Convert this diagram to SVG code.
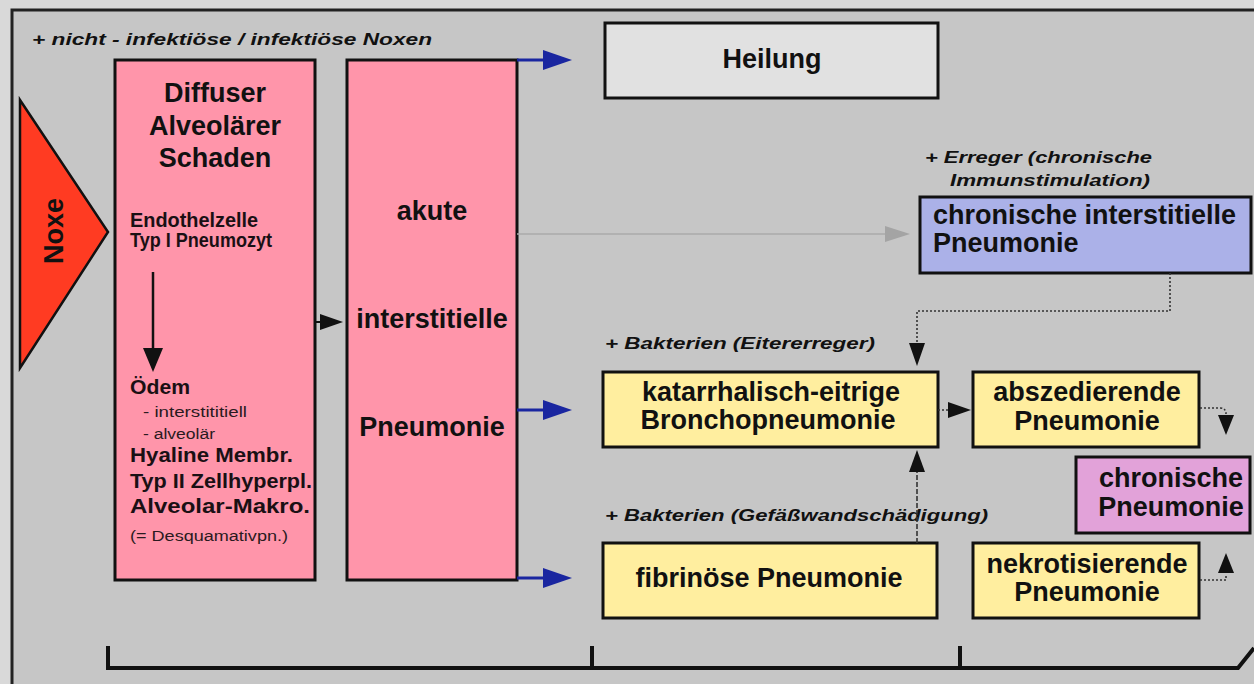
<svg xmlns="http://www.w3.org/2000/svg" width="1254" height="684" viewBox="0 0 1254 684">
<defs>
<style>
.box{stroke:#111;stroke-width:3}
.big{font-family:"Liberation Sans",Arial,sans-serif;font-weight:bold;font-size:27px;fill:#111}
.mid{font-family:"Liberation Sans",Arial,sans-serif;font-weight:bold;font-size:20px;fill:#1a1014}
.sm{font-family:"Liberation Sans",Arial,sans-serif;font-size:14px;fill:#2a1a20}
.lab{font-family:"Liberation Sans",Arial,sans-serif;font-weight:bold;font-style:italic;font-size:17px;fill:#111}
.dot{fill:none;stroke:#333;stroke-width:1.6;stroke-dasharray:2,2}
</style>
</defs>
<rect x="0" y="0" width="1254" height="684" fill="#d9d9d9"/>
<rect x="12" y="10" width="1250" height="680" fill="#c6c6c6" stroke="#222" stroke-width="3"/>

<g id="label-noxen"><text class="lab" x="32" y="45" textLength="400" lengthAdjust="spacingAndGlyphs">+ nicht - infektiöse  /  infektiöse Noxen</text></g>

<g id="noxe">
<polygon points="20,100 108,232 20,368" fill="#ff3b22" stroke="#111" stroke-width="2.5"/>
<text class="big" font-size="24" text-anchor="middle" transform="translate(63,231) rotate(-90)">Noxe</text>
</g>

<g id="dad">
<rect class="box" x="115" y="60" width="200" height="520" fill="#ff95aa"/>
<text class="big" x="215" y="102" text-anchor="middle">Diffuser</text>
<text class="big" x="215" y="135" text-anchor="middle">Alveolärer</text>
<text class="big" x="215" y="167" text-anchor="middle">Schaden</text>
<text class="mid" x="130" y="227" textLength="128" lengthAdjust="spacingAndGlyphs">Endothelzelle</text>
<text class="mid" x="130" y="247" textLength="142" lengthAdjust="spacingAndGlyphs">Typ I Pneumozyt</text>
<text class="mid" x="130" y="394" textLength="60" lengthAdjust="spacingAndGlyphs">Ödem</text>
<text class="sm" x="143" y="417" textLength="104" lengthAdjust="spacingAndGlyphs">- interstititiell</text>
<text class="sm" x="143" y="439" textLength="72" lengthAdjust="spacingAndGlyphs">- alveolär</text>
<text class="mid" x="130" y="462" textLength="163" lengthAdjust="spacingAndGlyphs">Hyaline Membr.</text>
<text class="mid" x="130" y="488" textLength="182" lengthAdjust="spacingAndGlyphs">Typ II Zellhyperpl.</text>
<text class="mid" x="130" y="513" textLength="180" lengthAdjust="spacingAndGlyphs">Alveolar-Makro.</text>
<text class="sm" x="130" y="541" textLength="158" lengthAdjust="spacingAndGlyphs">(= Desquamativpn.)</text>
</g>

<g id="aip">
<rect class="box" x="347" y="60" width="170" height="520" fill="#ff95aa"/>
<text class="big" x="432" y="220" text-anchor="middle">akute</text>
<text class="big" x="432" y="328" text-anchor="middle">interstitielle</text>
<text class="big" x="432" y="436" text-anchor="middle">Pneumonie</text>
</g>

<g id="heilung">
<rect class="box" x="605" y="23" width="333" height="75" fill="#e1e1e1"/>
<text class="big" x="772" y="68" text-anchor="middle">Heilung</text>
</g>

<g id="label-erreger">
<text class="lab" x="925" y="163" textLength="227" lengthAdjust="spacingAndGlyphs">+ Erreger (chronische</text>
<text class="lab" x="950" y="186" textLength="200" lengthAdjust="spacingAndGlyphs">Immunstimulation)</text>
</g>

<g id="cip">
<rect class="box" x="920" y="197" width="331" height="76" fill="#abb1e8"/>
<text class="big" x="933" y="224">chronische interstitielle</text>
<text class="big" x="933" y="252">Pneumonie</text>
</g>

<g id="label-eiter"><text class="lab" x="605" y="349" textLength="270" lengthAdjust="spacingAndGlyphs">+ Bakterien  (Eitererreger)</text></g>

<g id="bronchopn">
<rect class="box" x="603" y="372" width="335" height="75" fill="#ffee9f"/>
<text class="big" x="771" y="401" text-anchor="middle">katarrhalisch-eitrige</text>
<text class="big" x="768" y="429" text-anchor="middle">Bronchopneumonie</text>
</g>

<g id="abszed">
<rect class="box" x="973" y="372" width="226" height="75" fill="#ffee9f"/>
<text class="big" x="1087" y="401" text-anchor="middle">abszedierende</text>
<text class="big" x="1087" y="430" text-anchor="middle">Pneumonie</text>
</g>

<g id="chronpn">
<rect class="box" x="1076" y="457" width="174" height="76" fill="#e2a2d9"/>
<text class="big" font-size="26" x="1171" y="487" text-anchor="middle">chronische</text>
<text class="big" font-size="26" x="1171" y="516" text-anchor="middle">Pneumonie</text>
</g>

<g id="label-gefaess"><text class="lab" x="605" y="521" textLength="383" lengthAdjust="spacingAndGlyphs">+ Bakterien  (Gefäßwandschädigung)</text></g>

<g id="fibrin">
<rect class="box" x="603" y="543" width="334" height="75" fill="#ffee9f"/>
<text class="big" x="769" y="587" text-anchor="middle">fibrinöse Pneumonie</text>
</g>

<g id="nekrot">
<rect class="box" x="973" y="543" width="226" height="75" fill="#ffee9f"/>
<text class="big" x="1087" y="573" text-anchor="middle">nekrotisierende</text>
<text class="big" x="1087" y="601" text-anchor="middle">Pneumonie</text>
</g>

<g id="connectors">
<line x1="153" y1="272" x2="153" y2="350" stroke="#111" stroke-width="2.5"/>
<polygon points="143,348 163,348 153,372" fill="#111"/>
<line x1="316" y1="322" x2="324" y2="322" stroke="#111" stroke-width="2"/>
<polygon points="320,314 343,322 320,330" fill="#111"/>
<line x1="517" y1="60" x2="546" y2="60" stroke="#1a26a0" stroke-width="3"/>
<polygon points="543,50 572,60 543,70" fill="#1a26a0"/>
<line x1="517" y1="410" x2="546" y2="410" stroke="#1a26a0" stroke-width="3"/>
<polygon points="543,400 572,410 543,420" fill="#1a26a0"/>
<line x1="517" y1="578" x2="546" y2="578" stroke="#1a26a0" stroke-width="3"/>
<polygon points="543,568 572,578 543,588" fill="#1a26a0"/>
<line x1="517" y1="234" x2="888" y2="234" stroke="#aaaaaa" stroke-width="1.5"/>
<polygon points="885,226 910,234 885,242" fill="#a4a4a4"/>
<path class="dot" d="M1170,273 V311 H917 V345"/>
<polygon points="909,343 925,343 917,366" fill="#111"/>
<path class="dot" d="M938,410 H950"/>
<polygon points="948,402 971,410 948,418" fill="#111"/>
<path class="dot" d="M1200,408 H1220 Q1226,408 1226,414"/>
<polygon points="1218,415 1234,415 1226,435" fill="#111"/>
<path class="dot" d="M1200,580 H1226 V574"/>
<polygon points="1218,573 1234,573 1226,553" fill="#111"/>
<line x1="917" y1="543" x2="917" y2="470" stroke="#333" stroke-width="1.6" stroke-dasharray="5,2"/>
<polygon points="909,472 925,472 917,450" fill="#111"/>
</g>

<g id="bracket" fill="none" stroke="#111" stroke-width="4">
<path d="M108,646 V668 H1238 L1254,648"/>
<line x1="592" y1="646" x2="592" y2="668"/>
<line x1="960" y1="646" x2="960" y2="668"/>
</g>
</svg>
